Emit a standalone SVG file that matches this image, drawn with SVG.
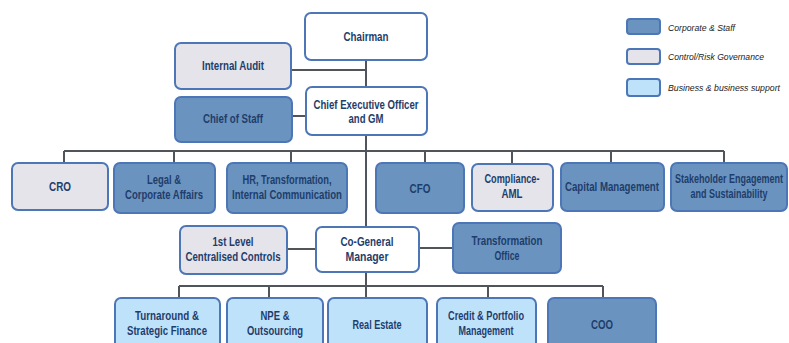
<svg xmlns="http://www.w3.org/2000/svg" width="789" height="343" viewBox="0 0 789 343">
<style>
.box{stroke:#4d76b6;stroke-width:2}
.cs{fill:#6a94bf}
.cr{fill:#e4e4ea}
.bs{fill:#bfe2fb}
.wh{fill:#ffffff}
.t{font-family:"Liberation Sans","Arial",sans-serif;font-weight:bold;font-size:12.5px;fill:#1f3d6b;text-anchor:middle}
.lg{font-family:"Liberation Sans","Arial",sans-serif;font-style:italic;font-size:9.5px;fill:#222}
.c{stroke:#50555c;stroke-width:2;fill:none}
</style>
<rect width="789" height="343" fill="#ffffff"/>
<g id="connectors">
<path class="c" d="M366 60 V298"/>
<path class="c" d="M291 70 H366"/>
<path class="c" d="M292 116 H306"/>
<path class="c" d="M64 151 H724"/>
<path class="c" d="M64 151 V163 M174 151 V163 M291 151 V163 M425 151 V163 M512 151 V164 M611 151 V163 M724 151 V163"/>
<path class="c" d="M287 249 H316"/>
<path class="c" d="M419 248 H453"/>
<path class="c" d="M179 286 H603"/>
<path class="c" d="M179 286 V298 M269 286 V298 M488 286 V298 M603 286 V298"/>
</g>
<g id="legend">
<rect class="box cs" x="627" y="19" width="33" height="15" rx="3"/>
<text class="lg" x="668" y="31" textLength="67" lengthAdjust="spacingAndGlyphs">Corporate &amp; Staff</text>
<rect class="box cr" x="627" y="49" width="33" height="15" rx="3"/>
<text class="lg" x="668" y="60" textLength="96" lengthAdjust="spacingAndGlyphs">Control/Risk Governance</text>
<rect class="box bs" x="627" y="79" width="33" height="17" rx="3"/>
<text class="lg" x="668" y="91" textLength="112" lengthAdjust="spacingAndGlyphs">Business &amp; business support</text>
</g>
<g id="chairman"><rect class="box wh" x="305" y="13" width="122" height="47" rx="6"/><text class="t" x="366" y="41" textLength="45" lengthAdjust="spacingAndGlyphs">Chairman</text></g>
<g id="internal-audit"><rect class="box cr" x="175" y="43" width="116" height="46" rx="6"/><text class="t" x="233" y="70" textLength="62" lengthAdjust="spacingAndGlyphs">Internal Audit</text></g>
<g id="ceo"><rect class="box wh" x="306" y="87" width="121" height="48" rx="6"/><text class="t" x="366" y="109" textLength="105" lengthAdjust="spacingAndGlyphs">Chief Executive Officer</text><text class="t" x="366" y="123" textLength="35" lengthAdjust="spacingAndGlyphs">and GM</text></g>
<g id="chief-of-staff"><rect class="box cs" x="175" y="97" width="117" height="45" rx="6"/><text class="t" x="233" y="123" textLength="60" lengthAdjust="spacingAndGlyphs">Chief of Staff</text></g>
<g id="cro"><rect class="box cr" x="12" y="163" width="96" height="47" rx="6"/><text class="t" x="60" y="191" textLength="22" lengthAdjust="spacingAndGlyphs">CRO</text></g>
<g id="legal"><rect class="box cs" x="114" y="163" width="101" height="50" rx="6"/><text class="t" x="164" y="184" textLength="34" lengthAdjust="spacingAndGlyphs">Legal &amp;</text><text class="t" x="164" y="199" textLength="78" lengthAdjust="spacingAndGlyphs">Corporate Affairs</text></g>
<g id="hr"><rect class="box cs" x="227" y="163" width="120" height="50" rx="6"/><text class="t" x="287" y="184" textLength="89" lengthAdjust="spacingAndGlyphs">HR, Transformation,</text><text class="t" x="287" y="199" textLength="110" lengthAdjust="spacingAndGlyphs">Internal Communication</text></g>
<g id="cfo"><rect class="box cs" x="376" y="163" width="88" height="50" rx="6"/><text class="t" x="420" y="193" textLength="21" lengthAdjust="spacingAndGlyphs">CFO</text></g>
<g id="compliance"><rect class="box cr" x="472" y="164" width="81" height="47" rx="6"/><text class="t" x="512" y="183" textLength="55" lengthAdjust="spacingAndGlyphs">Compliance-</text><text class="t" x="512" y="198" textLength="21" lengthAdjust="spacingAndGlyphs">AML</text></g>
<g id="capital"><rect class="box cs" x="561" y="163" width="103" height="48" rx="6"/><text class="t" x="612" y="191" textLength="94" lengthAdjust="spacingAndGlyphs">Capital Management</text></g>
<g id="stakeholder"><rect class="box cs" x="671" y="163" width="116" height="48" rx="6"/><g transform="translate(729,183) scale(0.72,1)"><text class="t" x="0" y="0">Stakeholder Engagement</text><text class="t" x="0" y="15">and Sustainability</text></g></g>
<g id="first-level"><rect class="box cr" x="180" y="226" width="107" height="48" rx="6"/><text class="t" x="233" y="246" textLength="41" lengthAdjust="spacingAndGlyphs">1st Level</text><text class="t" x="233" y="261" textLength="95" lengthAdjust="spacingAndGlyphs">Centralised Controls</text></g>
<g id="co-gm"><rect class="box wh" x="316" y="227" width="103" height="45" rx="6"/><text class="t" x="367" y="246" textLength="53" lengthAdjust="spacingAndGlyphs">Co-General</text><text class="t" x="367" y="261" textLength="43" lengthAdjust="spacingAndGlyphs">Manager</text></g>
<g id="transformation-office"><rect class="box cs" x="453" y="223" width="108" height="50" rx="6"/><text class="t" x="507" y="245" textLength="71" lengthAdjust="spacingAndGlyphs">Transformation</text><text class="t" x="507" y="260" textLength="25" lengthAdjust="spacingAndGlyphs">Office</text></g>
<g id="turnaround"><rect class="box bs" x="115" y="298" width="105" height="52" rx="6"/><text class="t" x="167" y="320" textLength="64" lengthAdjust="spacingAndGlyphs">Turnaround &amp;</text><text class="t" x="167" y="335" textLength="80" lengthAdjust="spacingAndGlyphs">Strategic Finance</text></g>
<g id="npe"><rect class="box bs" x="227" y="298" width="96" height="52" rx="6"/><text class="t" x="275" y="320" textLength="29" lengthAdjust="spacingAndGlyphs">NPE &amp;</text><text class="t" x="275" y="335" textLength="56" lengthAdjust="spacingAndGlyphs">Outsourcing</text></g>
<g id="real-estate"><rect class="box bs" x="328" y="298" width="99" height="52" rx="6"/><text class="t" x="377" y="329" textLength="49" lengthAdjust="spacingAndGlyphs">Real Estate</text></g>
<g id="credit"><rect class="box bs" x="437" y="298" width="99" height="52" rx="6"/><text class="t" x="486" y="320" textLength="76" lengthAdjust="spacingAndGlyphs">Credit &amp; Portfolio</text><text class="t" x="486" y="335" textLength="55" lengthAdjust="spacingAndGlyphs">Management</text></g>
<g id="coo"><rect class="box cs" x="548" y="298" width="108" height="52" rx="6"/><text class="t" x="602" y="329" textLength="22" lengthAdjust="spacingAndGlyphs">COO</text></g>
</svg>
